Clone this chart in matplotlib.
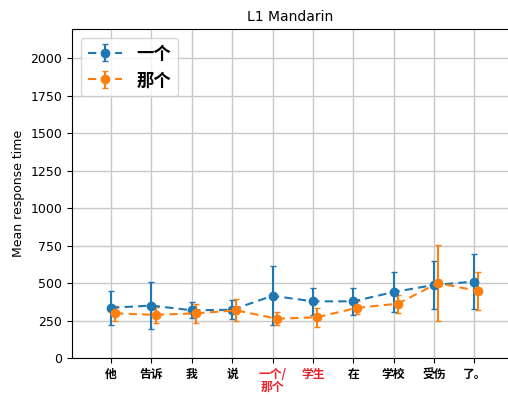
import numpy as np
import matplotlib
matplotlib.use('Agg')
import matplotlib.pyplot as plt

# Words in the sentence (x categories)
words = ['他', '告诉', '我', '说', '一个/\n那个', '学生', '在', '学校', '受伤', '了。']

# Mean response times and error bars
yige_mean = [335, 350, 318, 322, 415, 378, 378, 440, 487, 510]
yige_err = [115, 155, 53, 62, 198, 91, 91, 134, 159, 185]
nage_mean = [298, 288, 298, 318, 262, 272, 335, 362, 500, 447]
nage_err = [50, 55, 65, 73, 45, 63, 42, 60, 255, 130]

x = np.arange(len(words))

fig = plt.figure(figsize=(5.08, 3.98), dpi=100)
ax = fig.add_axes([0.1417, 0.1005, 0.95, 0.8266])

ax.errorbar(x, yige_mean, yerr=yige_err, fmt='o--', color='#1f77b4',
            capsize=2, markersize=6, elinewidth=1.5, dashes=(4, 2.5),
            label='一个')
ax.errorbar(x + 0.1, nage_mean, yerr=nage_err, fmt='o--', color='#ff7f0e',
            capsize=2, markersize=6, elinewidth=1.5, dashes=(4, 2.5),
            label='那个')

ax.set_xlim(-0.97, 10.99)
ax.set_ylim(0, 2195)
ax.set_yticks(np.arange(0, 2001, 250))
ax.set_xticks(x)
ax.set_xticklabels(words, family=['Noto Sans CJK SC', 'DejaVu Sans'],
                   fontweight='bold', fontsize=8.5, linespacing=1.0)
for i in (4, 5):
    ax.get_xticklabels()[i].set_color('#e8202a')
ax.tick_params(axis='y', labelsize=9)
ax.grid(True, color='#c8c8c8', linewidth=1)
ax.set_axisbelow(True)

ax.set_ylabel('Mean response time', fontsize=9)
# the picture is cropped on the right, so centre the title on the visible part
ax.set_title('L1 Mandarin', fontsize=10, x=0.452)

ax.legend(loc='upper left', prop={'family': ['Noto Sans CJK SC', 'DejaVu Sans'],
                                  'weight': 'bold', 'size': 12.5})

fig.savefig('out.png', dpi=100)
